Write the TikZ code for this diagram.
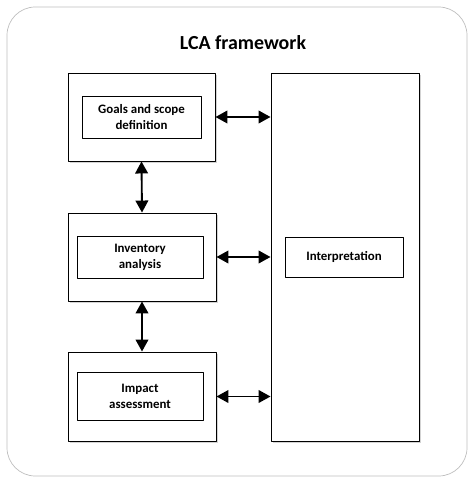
\documentclass[tikz,border=0pt]{standalone}
\usepackage{fontspec}
\setmainfont{Carlito}
\usetikzlibrary{arrows.meta,shadows,calc}

\begin{document}
\begin{tikzpicture}[x=0.03cm, y=-0.03cm, >={Triangle[length=3.6mm,width=3.8mm]}, line join=round,
	stage/.style={draw, line width=0.8pt, fill=white, drop shadow={shadow xshift=1.5pt, shadow yshift=-1.5pt, opacity=0.35}},
	label/.style={draw, line width=0.8pt, fill=white, align=center, font=\bfseries\fontsize{11}{13.5}\selectfont},
	link/.style={<->, line width=1.6pt}]
	\def \u{0.03cm}
	\useasboundingbox (0,0) rectangle (474,483);
	% outer frame
	\draw[gray!50, line width=0.6pt, rounded corners=0.85cm] (7,7) rectangle (467,476);
	\node[font=\bfseries\fontsize{17}{20}\selectfont] (title) at (243,43) {LCA framework};
	
	% stages
	\node[stage, minimum width=147*\u, minimum height=88*\u] (goal) at (141.5,117) {};
	\node[stage, minimum width=148*\u, minimum height=88*\u] (inv) at (142,257) {};
	\node[stage, minimum width=148*\u, minimum height=89*\u] (imp) at (142,396.5) {};
	\node[stage, minimum width=148*\u, minimum height=368*\u] (intp) at (345,257) {};
	
	\node[label, minimum width=119*\u, minimum height=42*\u] (goalL) at (141.5,117) {Goals and scope\\definition};
	\node[label, minimum width=126*\u, minimum height=42*\u] (invL) at (140,257) {Inventory\\analysis};
	\node[label, minimum width=126*\u, minimum height=48*\u] (impL) at (140,396) {Impact\\assessment};
	\node[label, minimum width=118*\u, minimum height=40*\u] (intpL) at (344,257) {Interpretation};
	
	% links
	\draw[link] (goal.south) -- (inv.north);
	\draw[link] (inv.south) -- (imp.north);
	\draw[link] (goal.east) -- (goal.east -| intp.west);
	\draw[link] (inv.east) -- (inv.east -| intp.west);
	\draw[link] (imp.east) -- (imp.east -| intp.west);
\end{tikzpicture}
\end{document}
